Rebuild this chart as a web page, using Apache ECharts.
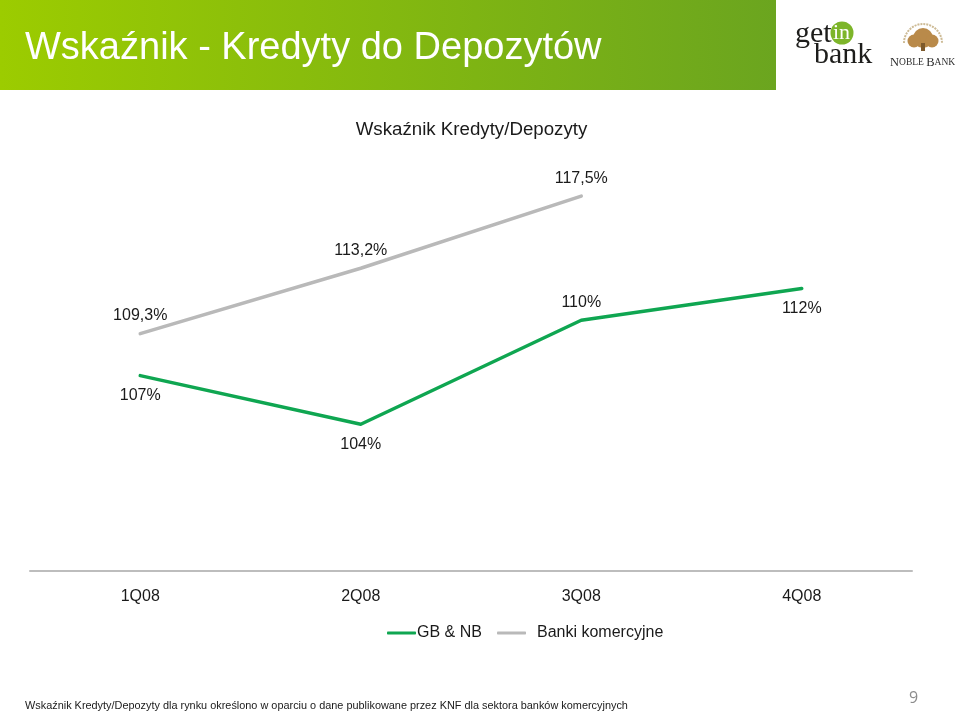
<!DOCTYPE html>
<html>
<head>
<meta charset="utf-8">
<style>
  html, body { margin: 0; padding: 0; background: #fff; }
  #chart { width: 960px; height: 713px; }
</style>
<script src="https://cdn.jsdelivr.net/npm/echarts@6/dist/echarts.min.js"></script>
</head>
<body>
<div id="chart"></div>
<script>
const categories = ['1Q08', '2Q08', '3Q08', '4Q08'];
const gbNbValues = [106.8, 103.9, 110.1, 112.0];
const gbNbLabels = ['107%', '104%', '110%', '112%'];
const gbNbLabelSides = ['bottom', 'bottom', 'top', 'bottom'];
const bankiValues = [109.3, 113.2, 117.5, null];
const bankiLabels = ['109,3%', '113,2%', '117,5%', ''];

const FONT = '"Liberation Sans", Arial, sans-serif';
const SERIF = '"Liberation Serif", serif';
const TEXT = '#1a1a1a';
const GREEN = '#0fa651';
const GREY = '#b9b9b9';
const TAN = '#b98a4a';

function toPoints(values, labels, sides) {
  return values.map((value, i) => {
    const position = sides ? sides[i] : 'top';
    return {
      value,
      label: {
        formatter: labels[i],
        position,
        distance: position === 'bottom' ? 12 : 10,
      },
    };
  });
}

const chart = echarts.init(document.getElementById('chart'), null, { renderer: 'canvas' });

chart.setOption({
  animation: false,
  backgroundColor: '#fff',
  title: {
    text: 'Wskaźnik Kredyty/Depozyty',
    left: 466.5,
    top: 115,
    textAlign: 'center',
    textStyle: { color: TEXT, fontFamily: FONT, fontSize: 18.7, fontWeight: 'normal' },
  },
  grid: { left: 30, right: 48, top: 171, bottom: 142 },
  legend: [
    {
      left: 382,
      top: 620,
      data: ['GB & NB'],
      icon: 'roundRect',
      itemWidth: 29,
      itemHeight: 3,
      itemGap: 0,
      selectedMode: false,
      textStyle: { color: TEXT, fontFamily: FONT, fontSize: 16, padding: [0, 0, 0, -4] },
    },
    {
      left: 492,
      top: 620,
      data: ['Banki komercyjne'],
      icon: 'roundRect',
      itemWidth: 29,
      itemHeight: 3,
      itemGap: 0,
      selectedMode: false,
      textStyle: { color: TEXT, fontFamily: FONT, fontSize: 16, padding: [0, 0, 0, 6] },
    },
  ],
  xAxis: {
    type: 'category',
    data: categories,
    boundaryGap: true,
    axisLine: { lineStyle: { color: '#bdbdbd', width: 2 } },
    axisTick: { show: false },
    axisLabel: { color: TEXT, fontFamily: FONT, fontSize: 16, margin: 18 },
  },
  yAxis: {
    type: 'value',
    min: 95.15,
    max: 119,
    show: false,
    splitLine: { show: false },
  },
  series: [
    {
      name: 'GB & NB',
      type: 'line',
      data: toPoints(gbNbValues, gbNbLabels, gbNbLabelSides),
      symbol: 'circle',
      symbolSize: 0,
      showAllSymbol: true,
      itemStyle: { color: GREEN },
      lineStyle: { color: GREEN, width: 3.5, cap: 'round', join: 'round' },
      label: { show: true, color: TEXT, fontFamily: FONT, fontSize: 16 },
    },
    {
      name: 'Banki komercyjne',
      type: 'line',
      data: toPoints(bankiValues, bankiLabels),
      symbol: 'circle',
      symbolSize: 0,
      showAllSymbol: true,
      itemStyle: { color: GREY },
      lineStyle: { color: GREY, width: 3.5, cap: 'round', join: 'round' },
      label: { show: true, color: TEXT, fontFamily: FONT, fontSize: 16 },
    },
  ],
  graphic: [
    // slide header band
    {
      type: 'rect',
      silent: true,
      z: -1,
      shape: { x: 0, y: 0, width: 776, height: 90 },
      style: {
        fill: new echarts.graphic.LinearGradient(0, 0, 1, 0, [
          { offset: 0, color: '#9ccc00' },
          { offset: 1, color: '#6ba51f' },
        ]),
      },
    },
    {
      type: 'text',
      silent: true,
      style: { x: 25, y: 30, text: 'Wskaźnik - Kredyty do Depozytów', fill: '#fff', font: '38px ' + FONT },
    },
    // getin bank logo
    { type: 'circle', silent: true, shape: { cx: 842, cy: 33, r: 11.5 }, style: { fill: '#7db52a' } },
    { type: 'text', silent: true, style: { x: 795, y: 19, text: 'get', fill: '#1d1d1b', font: '30px ' + SERIF } },
    { type: 'text', silent: true, style: { x: 833, y: 22, text: 'in', fill: '#fff', font: '22px ' + SERIF } },
    { type: 'text', silent: true, style: { x: 814, y: 40, text: 'bank', fill: '#1d1d1b', font: '30px ' + SERIF } },
    // Noble Bank logo
    {
      type: 'arc',
      silent: true,
      shape: { cx: 923, cy: 43, r: 19, startAngle: Math.PI, endAngle: 0 },
      style: { stroke: '#cdbb96', fill: 'none', lineWidth: 2, lineDash: [2, 1] },
    },
    { type: 'circle', silent: true, shape: { cx: 923, cy: 38, r: 10 }, style: { fill: TAN } },
    { type: 'circle', silent: true, shape: { cx: 914, cy: 41, r: 6.5 }, style: { fill: TAN } },
    { type: 'circle', silent: true, shape: { cx: 932, cy: 41, r: 6.5 }, style: { fill: TAN } },
    { type: 'rect', silent: true, shape: { x: 921, y: 43, width: 4, height: 8 }, style: { fill: '#7d5a2c' } },
    {
      type: 'text',
      silent: true,
      style: {
        x: 890,
        y: 56,
        text: '{a|N}{b|OBLE }{a|B}{b|ANK}',
        rich: {
          a: { font: '12.5px ' + SERIF, fill: '#2e2e2e' },
          b: { font: '9.5px ' + SERIF, fill: '#2e2e2e' },
        },
      },
    },
    // footnote and page number
    {
      type: 'text',
      silent: true,
      style: {
        x: 25,
        y: 700,
        text: 'Wskaźnik Kredyty/Depozyty dla rynku określono w oparciu o dane publikowane przez KNF dla sektora banków komercyjnych',
        fill: TEXT,
        font: '10.9px ' + FONT,
      },
    },
    { type: 'text', silent: true, style: { x: 909, y: 690, text: '9', fill: '#8c8c8c', font: '16px "Open Sans", sans-serif' } },
  ],
});
</script>
</body>
</html>
